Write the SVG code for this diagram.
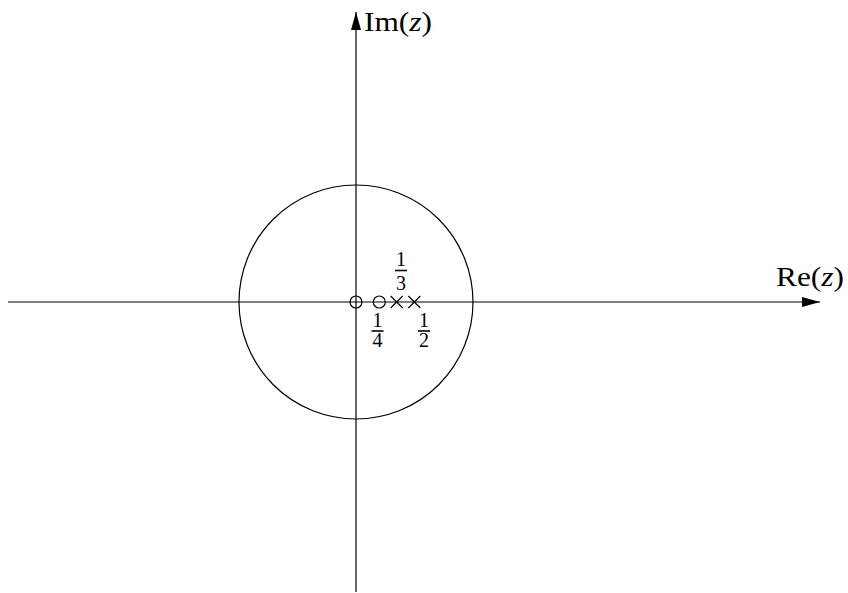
<svg xmlns="http://www.w3.org/2000/svg" width="848" height="593" viewBox="0 0 848 593">
<style>
.ln{stroke:#000;stroke-width:1.2;fill:none}
.bar{stroke:#000;stroke-width:1.6}
.t{font-family:"Liberation Serif","DejaVu Serif",serif;fill:#000}
.lab{font-size:27px}
.fr{font-size:20px;text-anchor:middle}
.it{font-style:italic}
</style>
<defs>
<marker id="ah" viewBox="0 0 18 10" refX="18" refY="5" markerWidth="18" markerHeight="10" markerUnits="userSpaceOnUse" orient="auto">
<path d="M0,0 L18,5 L0,10 Z" fill="#000"/>
</marker>
</defs>
<rect width="848" height="593" fill="#fff"/>
<g id="connectors">
<line id="re-axis" class="ln" x1="8" y1="302" x2="820" y2="302" marker-end="url(#ah)"/>
<line id="im-axis" class="ln" x1="356" y1="592" x2="356" y2="12" marker-end="url(#ah)"/>
</g>
<g id="unit-circle"><circle class="ln" cx="356" cy="302" r="117"/></g>
<g id="zero-0"><circle class="ln" cx="356" cy="302" r="6"/></g>
<g id="zero-quarter"><circle class="ln" cx="379.3" cy="302" r="6"/></g>
<g id="pole-third"><path class="ln" d="M390.7,296 L402.7,308 M390.7,308 L402.7,296"/></g>
<g id="pole-half"><path class="ln" d="M408.3,296 L420.3,308 M408.3,308 L420.3,296"/></g>
<g id="label-third">
<text class="t fr" x="401" y="266">1</text>
<line class="bar" x1="395" y1="270.5" x2="407" y2="270.5"/>
<text class="t fr" x="401" y="290">3</text>
</g>
<g id="label-quarter">
<text class="t fr" x="377.5" y="327">1</text>
<line class="bar" x1="371.5" y1="331" x2="383.5" y2="331"/>
<text class="t fr" x="377.5" y="347">4</text>
</g>
<g id="label-half">
<text class="t fr" x="424" y="327">1</text>
<line class="bar" x1="418" y1="331" x2="430" y2="331"/>
<text class="t fr" x="424" y="347">2</text>
</g>
<g id="label-im"><text class="t lab" x="364" y="31" textLength="68" lengthAdjust="spacingAndGlyphs">Im(<tspan class="it">z</tspan>)</text></g>
<g id="label-re"><text class="t lab" x="776" y="286" textLength="68" lengthAdjust="spacingAndGlyphs">Re(<tspan class="it">z</tspan>)</text></g>
</svg>
